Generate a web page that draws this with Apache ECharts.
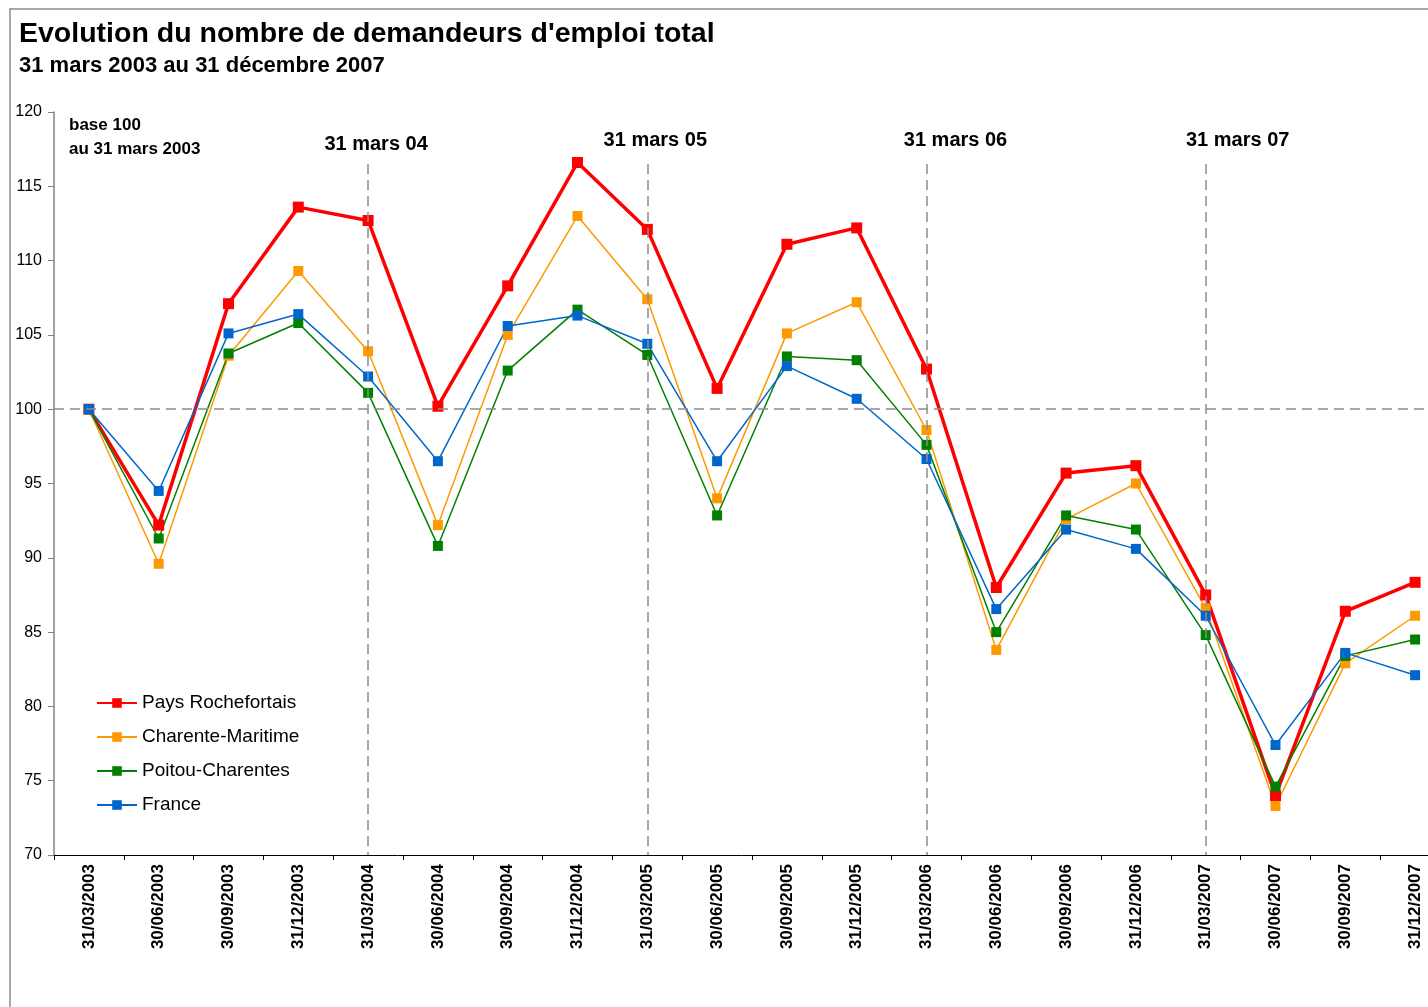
<!DOCTYPE html>
<html lang="fr">
<head>
<meta charset="UTF-8">
<title>Evolution du nombre de demandeurs d'emploi total</title>
<script src="https://cdn.jsdelivr.net/npm/echarts@6/dist/echarts.min.js"></script>
<style>
  html, body { margin: 0; padding: 0; background: #fff; }
  #main { width: 1428px; height: 1007px; }
</style>
</head>
<body>
<div id="main"></div>
<script>
    // trimestres
    var dates = ['31/03/2003', '30/06/2003', '30/09/2003', '31/12/2003',
                 '31/03/2004', '30/06/2004', '30/09/2004', '31/12/2004',
                 '31/03/2005', '30/06/2005', '30/09/2005', '31/12/2005',
                 '31/03/2006', '30/06/2006', '30/09/2006', '31/12/2006',
                 '31/03/2007', '30/06/2007', '30/09/2007', '31/12/2007'];

    // indices base 100 au 31 mars 2003
    var paysRochefortais = [100, 92.2, 107.1, 113.6, 112.7, 100.2, 108.3, 116.6, 112.1, 101.4,
                            111.1, 112.2, 102.7, 88.0, 95.7, 96.2, 87.5, 74.0, 86.4, 88.35];
    var charenteMaritime = [100, 89.6, 103.6, 109.3, 103.9, 92.2, 105.0, 113.0, 107.4, 94.0,
                            105.1, 107.2, 98.6, 83.8, 92.6, 95.0, 86.6, 73.3, 82.9, 86.1];
    var poitouCharentes  = [100, 91.3, 103.75, 105.8, 101.1, 90.8, 102.6, 106.7, 103.65, 92.85,
                            103.55, 103.3, 97.6, 85.0, 92.85, 91.9, 84.8, 74.6, 83.4, 84.5];
    var france           = [100, 94.5, 105.1, 106.4, 102.2, 96.5, 105.6, 106.3, 104.4, 96.5,
                            102.9, 100.7, 96.65, 86.55, 91.9, 90.6, 86.1, 77.4, 83.6, 82.1];

    // repères verticaux
    var repereDates  = ['31/03/2004', '31/03/2005', '31/03/2006', '31/03/2007'];
    var repereLabels = ['31 mars 04', '31 mars 05', '31 mars 06', '31 mars 07'];
    // décalage des étiquettes (px) pour coller au graphique d'origine
    var repereOffsets = [[8, 4], [8, 0], [29, 0], [32, 0]];

    var font = 'Arial, "Liberation Sans", sans-serif';
    var dash = '#8c8c8c';

    function serie(name, data, color, width, size) {
        return {
            name: name,
            type: 'line',
            data: data,
            symbol: 'rect',
            symbolSize: size,
            showAllSymbol: true,
            itemStyle: { color: color },
            lineStyle: { color: color, width: width },
            emphasis: { disabled: true }
        };
    }

    var lignes = repereDates.map(function (d, i) {
        return [
            { coord: [d, 116.5], label: { formatter: repereLabels[i], offset: repereOffsets[i] } },
            { coord: [d, 70] }
        ];
    });
    lignes.push({ yAxis: 100, label: { show: false } });

    var myChart = echarts.init(document.getElementById('main'));
    var option = {
        backgroundColor: '#fff',
        animation: false,
        textStyle: { fontFamily: font },
        title: [
            {
                text: "Evolution du nombre de demandeurs d'emploi total",
                left: 14, top: 15,
                textStyle: { fontSize: 28.5, fontWeight: 'bold', color: '#000', fontFamily: font }
            },
            {
                text: '31 mars 2003 au 31 décembre 2007',
                left: 14, top: 50,
                textStyle: { fontSize: 22, fontWeight: 'bold', color: '#000', fontFamily: font }
            }
        ],
        graphic: [
            {
                type: 'rect', silent: true,
                shape: { x: 10, y: 9, width: 1440, height: 1100 },
                style: { fill: null, stroke: '#8c8c8c', lineWidth: 1.5 }
            },
            {
                type: 'text', left: 69, top: 117,
                style: { text: 'base 100', font: 'bold 17px ' + font, fill: '#000' }
            },
            {
                type: 'text', left: 69, top: 141,
                style: { text: 'au 31 mars 2003', font: 'bold 17px ' + font, fill: '#000' }
            }
        ],
        legend: {
            data: ['Pays Rochefortais', 'Charente-Maritime', 'Poitou-Charentes', 'France'],
            orient: 'vertical',
            left: 91, top: 688,
            itemWidth: 40, itemHeight: 12, itemGap: 14,
            textStyle: { fontSize: 19, color: '#000', lineHeight: 20, fontFamily: font }
        },
        grid: {
            left: 54, width: 1396, top: 112, bottom: 152,
            containLabel: false, outerBoundsMode: 'none'
        },
        xAxis: {
            type: 'category',
            data: dates,
            boundaryGap: true,
            axisLine: { lineStyle: { color: '#000', width: 1 } },
            axisTick: { show: true, length: 5, lineStyle: { color: '#000' } },
            axisLabel: {
                rotate: 90, margin: 9, interval: 0,
                fontSize: 17, fontWeight: 'bold', color: '#000', fontFamily: font
            },
            splitLine: { show: false }
        },
        yAxis: {
            type: 'value',
            min: 70, max: 120, interval: 5,
            axisLine: { show: true, lineStyle: { color: '#808080', width: 1.5 } },
            axisTick: { show: true, length: 6, lineStyle: { color: '#808080' } },
            axisLabel: { fontSize: 16, color: '#000', margin: 12, fontFamily: font },
            splitLine: { show: false }
        },
        series: [
            {
                name: 'reperes',
                type: 'line',
                data: [],
                z: 1,
                markLine: {
                    silent: true,
                    symbol: 'none',
                    lineStyle: { color: dash, type: [10, 6], width: 1.5 },
                    label: {
                        show: true, position: 'start', distance: 14,
                        fontSize: 20, fontWeight: 'bold', color: '#000', fontFamily: font
                    },
                    data: lignes
                }
            },
            serie('Pays Rochefortais', paysRochefortais, '#ff0000', 3.5, 11),
            serie('Charente-Maritime', charenteMaritime, '#ff9900', 1.5, 10),
            serie('Poitou-Charentes', poitouCharentes, '#008000', 1.5, 10),
            serie('France', france, '#0066cc', 1.5, 10)
        ]
    };
    myChart.setOption(option);
</script>
</body>
</html>
